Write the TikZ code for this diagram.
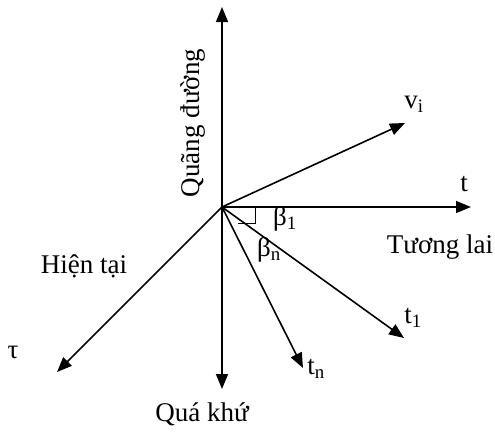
\documentclass[tikz,border=0pt]{standalone}
\usepackage{fontspec}
\setmainfont{Liberation Serif}
\usetikzlibrary{arrows.meta}

\begin{document}
\begin{tikzpicture}[x=1pt,y=-1pt,
  axis/.style={line width=1.6pt, -{Triangle[length=15pt,width=12pt]}},
  lbl/.style={inner sep=0pt, font=\fontsize{27}{32}\selectfont}]
\useasboundingbox (0,0) rectangle (495,431);
% Origin and arrow tips
\coordinate (o) at (222,207);
\coordinate (up) at (222,7);
\coordinate (down) at (222,389);
\coordinate (t) at (471,207);
\coordinate (vi) at (405,123);
\coordinate (tau) at (57,372);
\coordinate (t1) at (404,338);
\coordinate (tn) at (303,368);
% Axes
\foreach \e in {up, down, t, vi, tau, t1, tn} {
    \draw[axis] (o) -- (\e);
}
% Angle mark
\draw[line width=1pt] (255,207) -- (255,223) -- (238,223);
% Labels
\node[lbl, rotate=90] (qd) at (193,123) {Quãng đường};
\node[lbl] (lvi) at (414,104) {v\textsubscript{i}};
\node[lbl] (lt) at (464,184) {t};
\node[lbl] (lb1) at (285,219) {β\textsubscript{1}};
\node[lbl] (lbn) at (269,250) {β\textsubscript{n}};
\node[lbl] (ltl) at (440,247) {Tương lai};
\node[lbl] (lht) at (84,266) {Hiện tại};
\node[lbl] (ltau) at (13,352) {τ};
\node[lbl] (lt1) at (413,318) {t\textsubscript{1}};
\node[lbl] (ltn) at (316,369) {t\textsubscript{n}};
\node[lbl] (lqk) at (202,414) {Quá khứ};
\end{tikzpicture}
\end{document}
